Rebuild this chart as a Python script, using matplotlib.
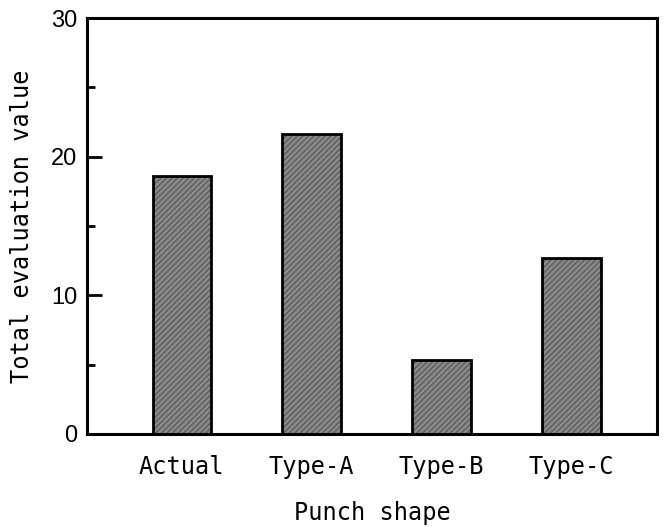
import matplotlib.pyplot as plt
from matplotlib.ticker import MultipleLocator

# values
shapes = ["Actual", "Type-A", "Type-B", "Type-C"]
totals = [18.6, 21.6, 5.3, 12.7]

mono = "DejaVu Sans Mono"

fig = plt.figure(figsize=(6.66, 5.27), dpi=100)
ax = fig.add_axes([0.1306, 0.1765, 0.8559, 0.7893])

x = list(range(len(shapes)))
# patterned fill then a black outline on top
ax.bar(x, totals, width=0.45, color="#8a8a8a", edgecolor="#5c5c5c",
       hatch="//////", linewidth=0)
ax.bar(x, totals, width=0.45, fill=False, edgecolor="black", linewidth=2)

ax.set_xlim(-0.73, 3.66)
ax.set_ylim(0, 30)
ax.yaxis.set_major_locator(MultipleLocator(10))
ax.yaxis.set_minor_locator(MultipleLocator(5))
ax.tick_params(axis="y", which="major", direction="in", length=11, width=2,
               labelsize=17, pad=7)
ax.tick_params(axis="y", which="minor", direction="in", length=6, width=2)
ax.tick_params(axis="x", length=0, pad=15)
for lab in ax.get_yticklabels():
    lab.set_fontfamily("Liberation Sans")

ax.set_xticks(x)
ax.set_xticklabels(shapes, fontsize=17, fontfamily=mono)
for s in ax.spines.values():
    s.set_linewidth(2.2)

ax.set_xlabel("Punch shape", fontsize=17, fontfamily=mono, labelpad=16)
ax.set_ylabel("Total evaluation value", fontsize=17, fontfamily=mono, labelpad=12)

fig.savefig("out.png", dpi=100)
